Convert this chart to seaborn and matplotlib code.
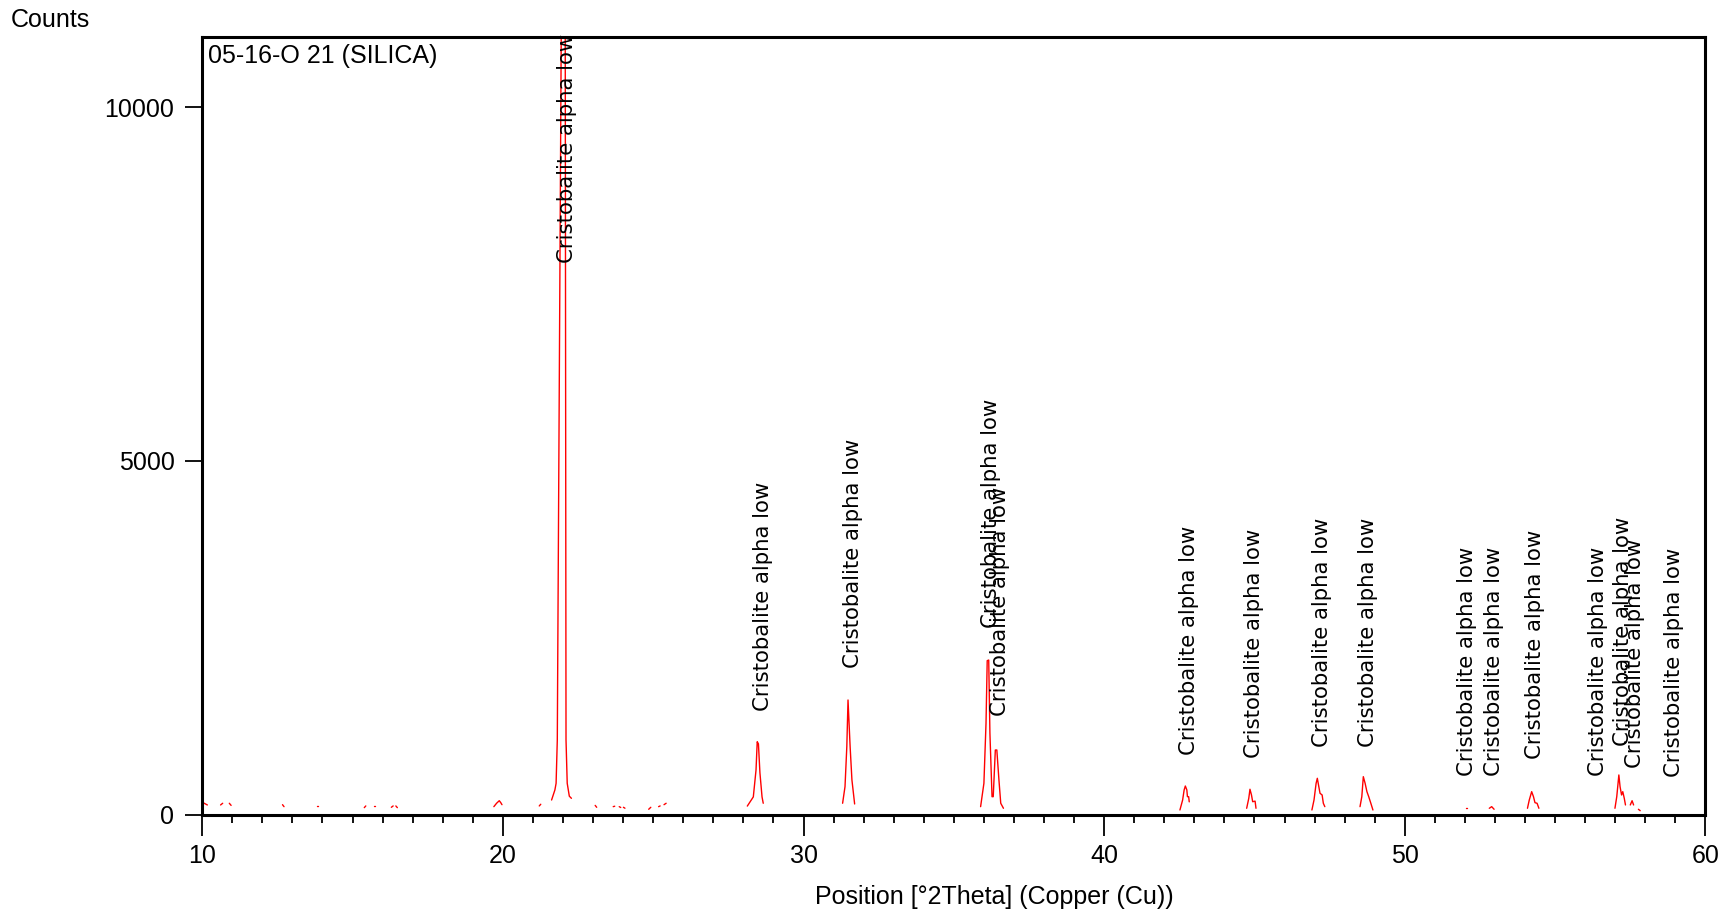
import numpy as np
import pandas as pd
import matplotlib
matplotlib.use("Agg")
import matplotlib.pyplot as plt
from matplotlib.ticker import MultipleLocator
import seaborn as sns

# ---- data: visible fragments of the measured pattern (2theta, counts) ----
bg_10_0 = ([10.03, 10.17], [168, 136])
bg_10_6 = ([10.61, 10.68], [136, 160])
bg_10_9 = ([10.90, 10.96], [160, 130])
bg_12_7 = ([12.67, 12.72], [140, 112])
bg_13_0 = ([12.97, 12.99], [103, 103])
bg_13_8 = ([13.82, 13.84], [126, 126])
bg_15_4 = ([15.39, 15.44], [98, 122])
bg_15_7 = ([15.72, 15.74], [126, 126])
bg_16_3 = ([16.29, 16.35], [103, 122])
bg_16_4 = ([16.44, 16.49], [122, 98])
bg_19_8 = ([19.70, 19.79, 19.88, 19.93, 19.97], [112, 160, 196, 168, 140])
bg_21_2 = ([21.21, 21.26], [122, 146])
pk_22_0 = ([21.62, 21.73, 21.77, 21.81, 21.96, 22.01, 22.07, 22.10, 22.14, 22.21, 22.28],
           [206, 348, 442, 1055, 12500, 19000, 12500, 1055, 442, 260, 230])
bg_23_1 = ([23.07, 23.12], [130, 103])
bg_23_7 = ([23.67, 23.72], [112, 118])
bg_23_9 = ([23.87, 23.92], [112, 100])
bg_24_0 = ([24.01, 24.06], [103, 90])
bg_24_9 = ([24.85, 24.92], [75, 103])
bg_25_2 = ([25.18, 25.23], [112, 122])
bg_25_4 = ([25.36, 25.43], [140, 160])
pk_28_5 = ([28.13, 28.33, 28.42, 28.46, 28.50, 28.55, 28.62, 28.66],
           [120, 250, 630, 1030, 1000, 590, 250, 160])
pk_31_5 = ([31.30, 31.38, 31.44, 31.48, 31.51, 31.55, 31.61, 31.70],
           [160, 395, 960, 1620, 1337, 960, 490, 150])
pk_36_1 = ([35.89, 36.00, 36.07, 36.11, 36.16, 36.20, 36.27, 36.31, 36.38, 36.43, 36.50, 36.56, 36.65],
           [112, 442, 1290, 2176, 2185, 1150, 253, 253, 913, 913, 489, 160, 89])
pk_42_7 = ([42.52, 42.61, 42.66, 42.70, 42.75, 42.77, 42.81, 42.83],
           [65, 206, 348, 404, 348, 253, 253, 180])
pk_44_9 = ([44.74, 44.81, 44.85, 44.90, 44.94, 45.02, 45.05],
           [89, 230, 358, 277, 182, 190, 89])
pk_47_1 = ([46.91, 46.98, 47.05, 47.09, 47.14, 47.18, 47.25, 47.29, 47.34],
           [65, 206, 442, 513, 394, 301, 277, 160, 112])
pk_48_6 = ([48.51, 48.57, 48.62, 48.68, 48.74, 48.80, 48.87, 48.94],
           [112, 253, 536, 442, 324, 253, 160, 65])
pk_52_1 = ([52.05, 52.07], [89, 89])
pk_52_9 = ([52.81, 52.89, 52.97], [89, 112, 75])
pk_54_2 = ([54.08, 54.14, 54.22, 54.28, 54.33, 54.40, 54.46],
           [89, 206, 324, 253, 168, 160, 89])
pk_57_1 = ([56.99, 57.05, 57.12, 57.16, 57.21, 57.25, 57.30, 57.34],
           [89, 253, 560, 394, 277, 324, 230, 136])
pk_57_6 = ([57.50, 57.56, 57.61], [136, 196, 136])
pk_57_8 = ([57.77, 57.83], [75, 55])

segments = [bg_10_0, bg_10_6, bg_10_9, bg_12_7, bg_13_0, bg_13_8, bg_15_4, bg_15_7,
            bg_16_3, bg_16_4, bg_19_8, bg_21_2, pk_22_0, bg_23_1, bg_23_7, bg_23_9,
            bg_24_0, bg_24_9, bg_25_2, bg_25_4, pk_28_5, pk_31_5, pk_36_1, pk_42_7,
            pk_44_9, pk_47_1, pk_48_6, pk_52_1, pk_52_9, pk_54_2, pk_57_1, pk_57_6,
            pk_57_8]

# ---- data: reference-pattern labels ----
label_pos = [22.13, 28.64, 31.65, 36.25, 36.54, 42.83, 45.00, 47.24, 48.79,
             52.08, 52.98, 54.34, 56.41, 57.25, 57.66, 58.97]
label_y = [7798, 1469, 2079, 2641, 1391, 844, 797, 954, 954,
           550, 550, 782, 550, 970, 657, 532]
label_text = "Cristobalite alpha low"

x_ticks = [10, 20, 30, 40, 50, 60]
y_ticks = [0, 5000, 10000]
title_text = "05-16-O 21 (SILICA)"
y_title = "Counts"
x_title = "Position [°2Theta] (Copper (Cu))"

rows = []
for sid, (xs, ys) in enumerate(segments):
    for xv, yv in zip(xs, ys):
        rows.append({"two_theta": xv, "counts": yv, "seg": sid})
df = pd.DataFrame(rows)

sns.set_theme(style="ticks")
plt.rcParams["font.family"] = ["Liberation Sans", "DejaVu Sans"]
plt.rcParams["text.color"] = "black"
plt.rcParams["axes.labelcolor"] = "black"
plt.rcParams["xtick.color"] = "black"
plt.rcParams["ytick.color"] = "black"

fig = plt.figure(figsize=(17.33, 9.13), dpi=100)
ax = fig.add_axes([0.1167, 0.1078, 0.9841 - 0.1167, 0.9600 - 0.1078])

sns.lineplot(data=df, x="two_theta", y="counts", units="seg", estimator=None,
             color="#ff0000", linewidth=1.0, ax=ax, legend=False)

for xp, yp in zip(label_pos, label_y):
    ax.text(xp, yp, label_text, rotation=90, ha="center", va="bottom",
            fontsize=15.3, family="DejaVu Sans", color="black")

ax.set_xlim(10, 60)
ax.set_ylim(0, 11000)
ax.set_xticks(x_ticks)
ax.set_yticks(y_ticks)
ax.xaxis.set_minor_locator(MultipleLocator(1))
ax.tick_params(axis="both", which="major", labelsize=18, colors="black",
               width=1.3, direction="out")
ax.tick_params(axis="x", which="major", length=15, pad=6)
ax.tick_params(axis="x", which="minor", length=6, width=1.3, direction="out",
               colors="black")
ax.tick_params(axis="y", which="major", length=12, pad=8)
for sp in ax.spines.values():
    sp.set_visible(True)
    sp.set_linewidth(2.2)
    sp.set_color("black")

ax.set_xlabel(x_title, fontsize=18, color="black")
ax.xaxis.label.set_verticalalignment("center")
ax.xaxis.set_label_coords(0.527, -0.1065)
ax.set_ylabel("")
ax.text(0.004, 0.975, title_text, transform=ax.transAxes, ha="left", va="center",
        fontsize=18, color="black")
fig.text(11 / 1733, 1 - 20 / 913, y_title, ha="left", va="center", fontsize=18,
         color="black")

fig.savefig("out.png", dpi=100)
